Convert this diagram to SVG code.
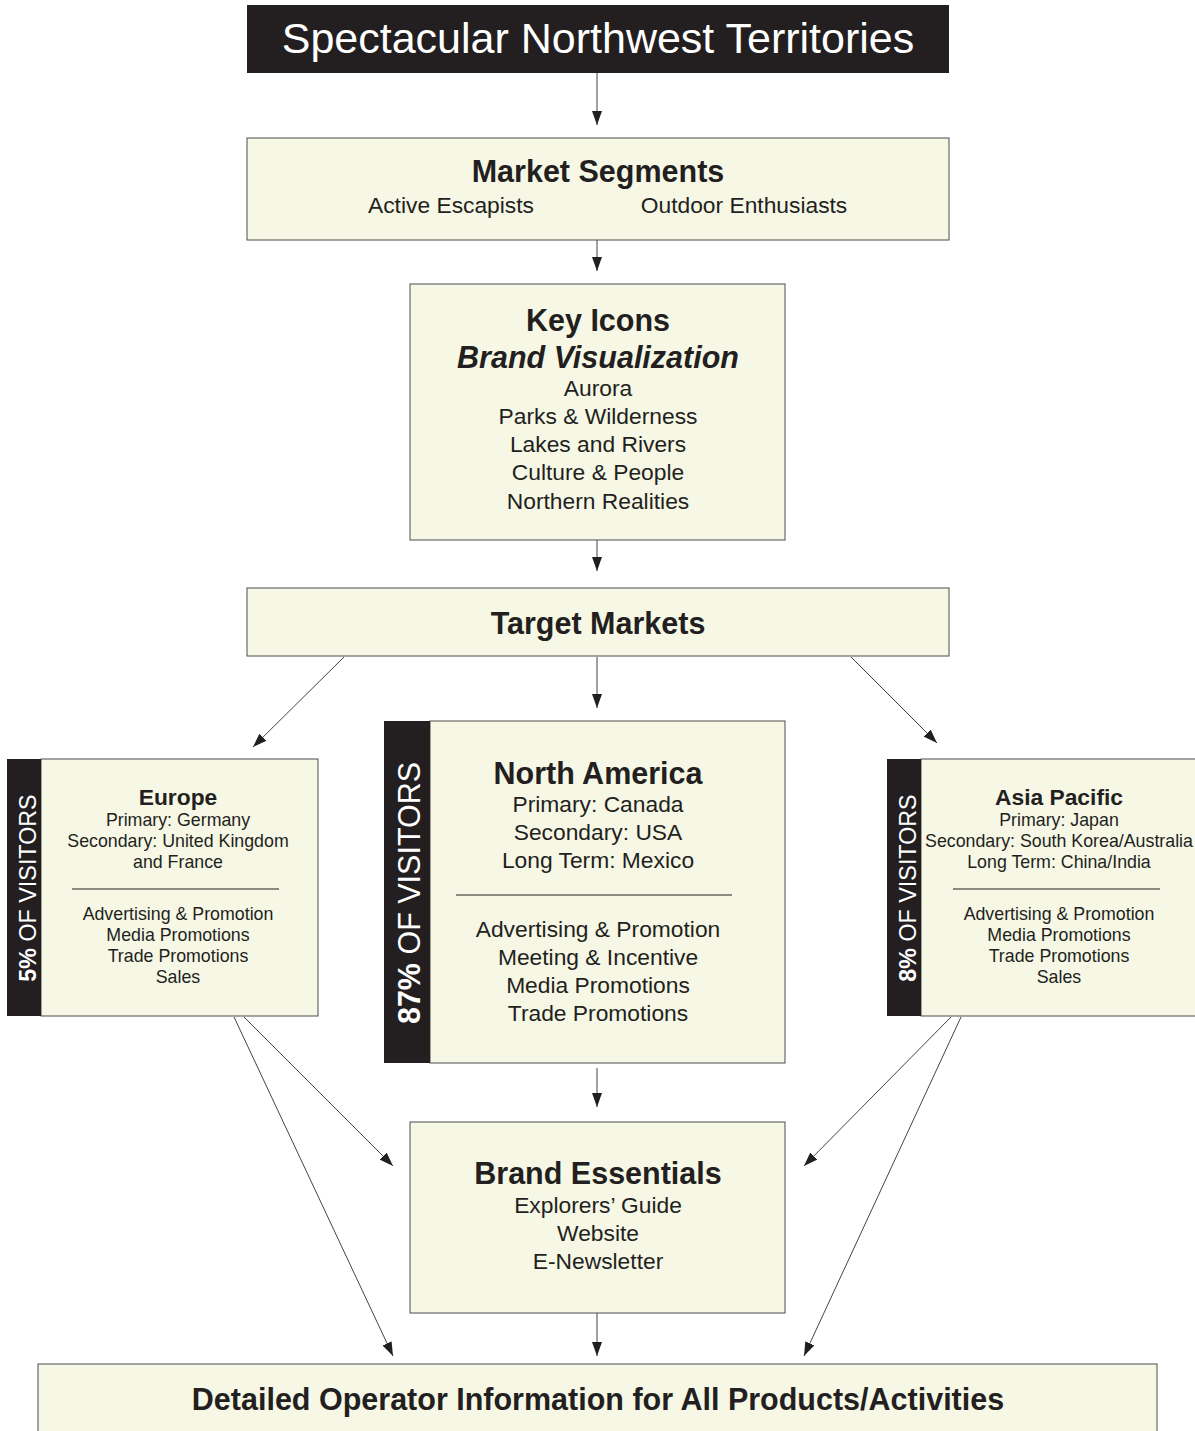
<svg xmlns="http://www.w3.org/2000/svg" width="1195" height="1431" viewBox="0 0 1195 1431">
<defs>
<marker id="ah" markerUnits="userSpaceOnUse" markerWidth="14" markerHeight="10" refX="14" refY="5" orient="auto">
<path d="M0,0 L14,5 L0,10 z" fill="#231f20"/>
</marker>
<style>
text{font-family:"Liberation Sans",Arial,sans-serif;fill:#231f20;text-anchor:middle}
.box{fill:#f6f7e5;stroke:#4d4d4d;stroke-width:1}
.bar{fill:#231f20}
.h{font-weight:bold;font-size:30.5px}
.t{font-size:22.8px}
.s{font-size:17.8px}
.eh{font-weight:bold;font-size:22.8px}
.v{fill:#ffffff;font-size:23.3px}
.c line{stroke:#444;stroke-width:1;marker-end:url(#ah)}
.div{stroke:#231f20;stroke-width:1}
</style>
</defs>
<rect width="1195" height="1431" fill="#ffffff"/>

<g id="title">
<rect x="247" y="5" width="702" height="68" fill="#231f20"/>
<text x="598" y="53" style="fill:#fff;font-size:43px">Spectacular Northwest Territories</text>
</g>

<g id="market-segments">
<rect class="box" x="247" y="138" width="702" height="102"/>
<text class="h" x="598" y="182">Market Segments</text>
<text class="t" x="451" y="213">Active Escapists</text>
<text class="t" x="744" y="213">Outdoor Enthusiasts</text>
</g>

<g id="key-icons">
<rect class="box" x="410" y="284" width="375" height="256"/>
<text class="h" x="598" y="331">Key Icons</text>
<text class="h" x="598" y="368" font-style="italic">Brand Visualization</text>
<text class="t" x="598" y="396">Aurora</text>
<text class="t" x="598" y="424">Parks &amp; Wilderness</text>
<text class="t" x="598" y="452">Lakes and Rivers</text>
<text class="t" x="598" y="480">Culture &amp; People</text>
<text class="t" x="598" y="509">Northern Realities</text>
</g>

<g id="target-markets">
<rect class="box" x="247" y="588" width="702" height="68"/>
<text class="h" x="598" y="634">Target Markets</text>
</g>

<g id="europe">
<rect class="box" x="41" y="759" width="277" height="257"/>
<rect class="bar" x="7" y="759" width="34" height="257"/>
<text class="v" transform="translate(36,888) rotate(-90)"><tspan font-weight="bold">5%</tspan> OF VISITORS</text>
<text class="eh" x="178" y="805">Europe</text>
<text class="s" x="178" y="826">Primary: Germany</text>
<text class="s" x="178" y="847">Secondary: United Kingdom</text>
<text class="s" x="178" y="868">and France</text>
<line class="div" x1="72" y1="889" x2="279" y2="889"/>
<text class="s" x="178" y="920">Advertising &amp; Promotion</text>
<text class="s" x="178" y="941">Media Promotions</text>
<text class="s" x="178" y="962">Trade Promotions</text>
<text class="s" x="178" y="983">Sales</text>
</g>

<g id="north-america">
<rect class="box" x="430" y="721" width="355" height="342"/>
<rect class="bar" x="384" y="721" width="46" height="342"/>
<text class="v" style="font-size:30.5px" transform="translate(420,893) rotate(-90)"><tspan font-weight="bold">87%</tspan> OF VISITORS</text>
<text x="598" y="784" style="font-weight:bold;font-size:30.5px">North America</text>
<text class="t" x="598" y="812">Primary: Canada</text>
<text class="t" x="598" y="840">Secondary: USA</text>
<text class="t" x="598" y="868">Long Term: Mexico</text>
<line class="div" x1="456" y1="895" x2="732" y2="895"/>
<text class="t" x="598" y="937">Advertising &amp; Promotion</text>
<text class="t" x="598" y="965">Meeting &amp; Incentive</text>
<text class="t" x="598" y="993">Media Promotions</text>
<text class="t" x="598" y="1021">Trade Promotions</text>
</g>

<g id="asia-pacific">
<rect class="box" x="921" y="759" width="290" height="257"/>
<rect class="bar" x="887" y="759" width="34" height="257"/>
<text class="v" transform="translate(916,888) rotate(-90)"><tspan font-weight="bold">8%</tspan> OF VISITORS</text>
<text class="eh" x="1059" y="805">Asia Pacific</text>
<text class="s" x="1059" y="826">Primary: Japan</text>
<text class="s" x="1059" y="847">Secondary: South Korea/Australia</text>
<text class="s" x="1059" y="868">Long Term: China/India</text>
<line class="div" x1="953" y1="889" x2="1160" y2="889"/>
<text class="s" x="1059" y="920">Advertising &amp; Promotion</text>
<text class="s" x="1059" y="941">Media Promotions</text>
<text class="s" x="1059" y="962">Trade Promotions</text>
<text class="s" x="1059" y="983">Sales</text>
</g>

<g id="brand-essentials">
<rect class="box" x="410" y="1122" width="375" height="191"/>
<text x="598" y="1184" style="font-weight:bold;font-size:30.5px">Brand Essentials</text>
<text class="t" x="598" y="1213">Explorers’ Guide</text>
<text class="t" x="598" y="1241">Website</text>
<text class="t" x="598" y="1269">E-Newsletter</text>
</g>

<g id="operator-info">
<rect class="box" x="38" y="1364" width="1119" height="80"/>
<text class="h" x="598" y="1410">Detailed Operator Information for All Products/Activities</text>
</g>

<g id="connectors" class="c">
<line x1="597" y1="73" x2="597" y2="125"/>
<line x1="597" y1="240" x2="597" y2="271"/>
<line x1="597" y1="540" x2="597" y2="571"/>
<line x1="344" y1="657" x2="253" y2="747"/>
<line x1="597" y1="657" x2="597" y2="708"/>
<line x1="851" y1="657" x2="937" y2="743"/>
<line x1="597" y1="1068" x2="597" y2="1107"/>
<line x1="244" y1="1017" x2="393" y2="1166"/>
<line x1="234" y1="1017" x2="393" y2="1356"/>
<line x1="951" y1="1017" x2="804" y2="1166"/>
<line x1="961" y1="1017" x2="804" y2="1356"/>
<line x1="597" y1="1313" x2="597" y2="1356"/>
</g>
</svg>
